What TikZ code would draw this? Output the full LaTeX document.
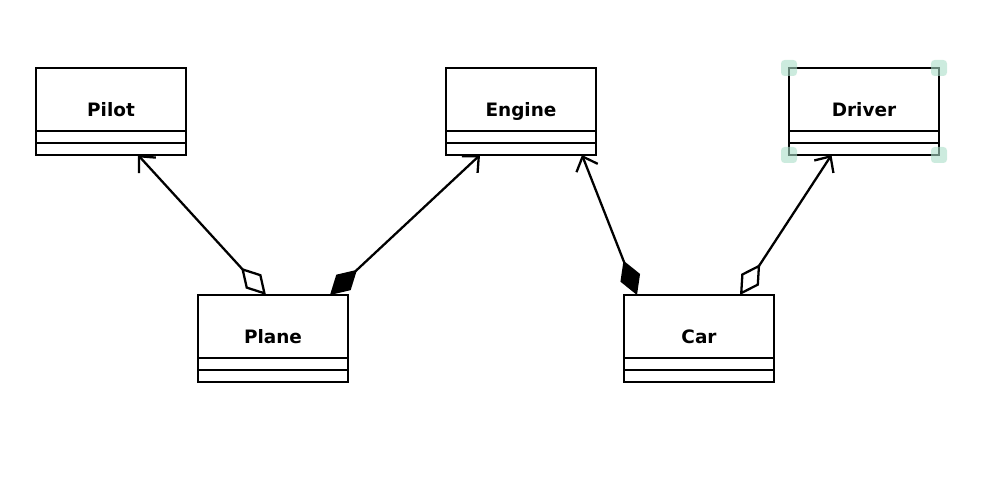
\documentclass[tikz,border=0pt]{standalone}
\usepackage{fontspec}
\setmainfont{DejaVu Sans}
\usepackage{tikz}
\usetikzlibrary{arrows.meta,positioning}

\definecolor{handlegreen}{RGB}{170,222,200}

\tikzset{
  classbox/.style={draw, line width=1.4pt, minimum width=3cm, minimum height=1.74cm,
    inner sep=0pt, outer sep=0pt, text height=0.75em, text depth=0.2em,
    font=\bfseries\fontsize{10.5}{12}\selectfont,
    path picture={
      \draw[line width=1.4pt] ([yshift=0.24cm]path picture bounding box.south west) -- ([yshift=0.24cm]path picture bounding box.south east);
      \draw[line width=1.4pt] ([yshift=0.48cm]path picture bounding box.south west) -- ([yshift=0.48cm]path picture bounding box.south east);
    }},
  assoc/.style={line width=1.3pt},
  aggr/.style={assoc, {Diamond[open,length=21pt,width=12pt]}-{Straight Barb[length=7pt,width=13pt]}},
  comp/.style={assoc, {Diamond[length=21pt,width=12pt]}-{Straight Barb[length=7pt,width=13pt]}},
  handle/.style={fill=handlegreen, fill opacity=0.6, draw=none, rounded corners=2pt, minimum size=0.32cm, inner sep=0pt}
}

\begin{document}
\begin{tikzpicture}
  \useasboundingbox (-2.22,-7.47) rectangle (17.72,2.23);
  \node[classbox] (pilot) {Pilot};
  \node[classbox] [right=5.2cm of pilot] (engine) {Engine};
  \node[classbox] [right=3.86cm of engine] (driver) {Driver};
  \node[classbox] [below right=2.8cm and 0.24cm of pilot] (plane) {Plane};
  \node[classbox] [right=5.52cm of plane] (car) {Car};
  % associations
  \draw[aggr] ([xshift=-0.14cm]plane.north) -- ([xshift=0.54cm]pilot.south);
  \draw[comp] ([xshift=1.14cm]plane.north) -- ([xshift=-0.82cm]engine.south);
  \draw[comp] ([xshift=-1.24cm]car.north) -- ([xshift=1.22cm]engine.south);
  \draw[aggr] ([xshift=0.82cm]car.north) -- ([xshift=-0.65cm]driver.south);
  % selection handles
  \foreach \c in {north west,north east,south west,south east}
    \node[handle] at (driver.\c) {};
\end{tikzpicture}
\end{document}
